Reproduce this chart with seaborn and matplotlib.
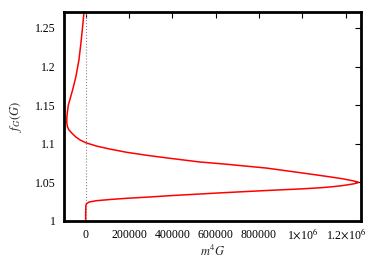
import matplotlib
matplotlib.use('Agg')
import matplotlib.pyplot as plt
import seaborn as sns
import pandas as pd

# curve: f_G(G) on y, m^4 G on x
f_vals = [1.000, 1.010, 1.020, 1.022, 1.0245, 1.0263, 1.028, 1.0294, 1.031,
          1.0328, 1.035, 1.0367, 1.0395, 1.0415, 1.043, 1.0445, 1.046, 1.048,
          1.0492, 1.050, 1.0508, 1.052, 1.0545, 1.0565, 1.059, 1.0626,
          1.0685, 1.0738, 1.0764, 1.0812, 1.085, 1.089, 1.093, 1.097, 1.1014,
          1.105, 1.109, 1.1136, 1.118, 1.122, 1.127, 1.133, 1.1395, 1.150,
          1.160, 1.170, 1.187, 1.2085, 1.230, 1.2517, 1.270]
m4g_vals = [0, 0, 1000, 3000, 15000, 50000, 120000, 190000, 290000,
            390000, 530000, 640000, 836000, 990000, 1082000, 1144000, 1190000, 1235000,
            1253000, 1259000, 1253000, 1235000, 1190000, 1144000, 1082000, 990000,
            836000, 640000, 528000, 389000, 285000, 189000, 115000, 50800, 0,
            -26000, -46000, -63000, -77000, -84000, -87000, -87000, -85000, -80000,
            -70000, -60000, -45000, -31000, -22000, -14000, -8000]

xticks = [0, 200000, 400000, 600000, 800000, 1000000, 1200000]
xtick_labels = ["0", "200000", "400000", "600000", "800000",
                r"1$\times$10$^{6}$", r"1.2$\times$10$^{6}$"]
yticks = [1, 1.05, 1.1, 1.15, 1.2, 1.25]
ytick_labels = ["1", "1.05", "1.1", "1.15", "1.2", "1.25"]

sns.set_theme(style="white")
plt.rcParams.update({"font.family": ["Liberation Serif", "DejaVu Serif"],
                     "mathtext.fontset": "stix", "font.size": 8.5})

df = pd.DataFrame({"m4G": m4g_vals, "fG": f_vals})

fig = plt.figure(figsize=(3.82, 2.73), dpi=100)
ax = fig.add_axes([0.1675, 0.1905, 0.7775, 0.7655])

ax.axvline(0, color="#888888", linestyle=":", linewidth=0.8, zorder=1)
sns.lineplot(data=df, x="m4G", y="fG", sort=False, estimator=None,
             color="#ff0000", linewidth=1.1, ax=ax, zorder=2)

ax.set_xlim(-100000, 1271000)
ax.set_ylim(1, 1.2707)
ax.set_xticks(xticks)
ax.set_xticklabels(xtick_labels)
ax.set_yticks(yticks)
ax.set_yticklabels(ytick_labels)
ax.tick_params(direction="in", length=4, width=0.8, top=True, right=True,
               labelsize=8.5, colors="black")
ax.tick_params(axis="y", pad=6)
ax.tick_params(axis="x", pad=12.5)
for lab in ax.get_xticklabels():
    lab.set_verticalalignment("baseline")
for s in ax.spines.values():
    s.set_linewidth(2)
    s.set_color("black")

ax.set_xlabel(r"$m^4G$", fontsize=9, labelpad=2)
ax.set_ylabel(r"$f_G(G)$", fontsize=9, labelpad=8)

plt.savefig("out.png", dpi=100)
plt.close()
